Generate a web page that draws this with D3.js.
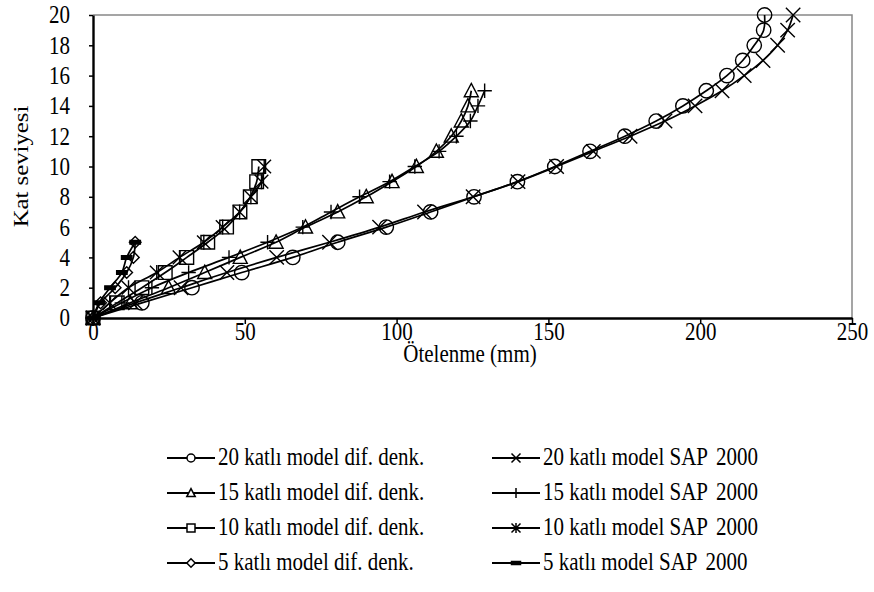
<!DOCTYPE html>
<html>
<head>
<meta charset="utf-8">
<script src="https://cdn.jsdelivr.net/npm/d3@7"></script>
<style>
  html, body { margin: 0; padding: 0; background: #fff; }
  svg { display: block; }
  text { font-family: "Liberation Serif", "Times New Roman", serif; fill: #000; }
</style>
</head>
<body>
<svg id="chart" width="874" height="592"></svg>
<script>
// ---------- data ----------
const xTicks = [0, 50, 100, 150, 200, 250];
const yTicks = [0, 2, 4, 6, 8, 10, 12, 14, 16, 18, 20];

const dif20 = [0, 16.1, 32.6, 49.0, 65.8, 80.6, 96.6, 111.2, 125.5, 139.8, 152.1, 163.7, 175.2, 185.5, 194.3, 202.0, 208.8, 214.0, 217.8, 220.9, 221.2];
const sap20 = [0, 14.0, 29.0, 44.1, 60.5, 77.9, 94.4, 109.2, 125.2, 140.0, 152.7, 164.8, 176.9, 188.4, 198.3, 207.2, 214.5, 220.7, 225.5, 228.8, 230.6];
const dif15 = [0, 12.3, 24.9, 36.8, 48.5, 60.3, 70.0, 80.6, 90.0, 98.5, 106.5, 113.1, 118.0, 121.3, 123.5, 124.6];
const sap15 = [0, 9.5, 19.4, 31.5, 44.8, 57.5, 69.1, 78.4, 87.8, 97.7, 106.0, 114.0, 119.7, 124.3, 126.8, 129.0];
const dif10 = [0, 8.0, 16.1, 23.8, 30.9, 37.8, 44.0, 48.4, 51.8, 53.9, 54.6];
const sap10 = [0, 5.5, 11.7, 21.0, 28.5, 36.5, 42.7, 48.3, 52.0, 55.5, 56.4];
const dif5  = [0, 2.5, 7.3, 11.1, 13.3, 13.9];
const sap5  = [0, 2.0, 5.6, 9.5, 11.1, 13.9];

const seriesModels = ["20 katlı model", "20 katlı model", "15 katlı model", "15 katlı model",
                      "10 katlı model", "10 katlı model", "5 katlı model", "5 katlı model"];
const seriesMethods = ["dif. denk.", "SAP", "dif. denk.", "SAP", "dif. denk.", "SAP", "dif. denk.", "SAP"];
const seriesSuffix = ["", "2000", "", "2000", "", "2000", "", "2000"];
const seriesValues = [dif20, sap20, dif15, sap15, dif10, sap10, dif5, sap5];
const seriesMarkers = ["circle", "x", "triangle", "plus", "square", "asterisk", "diamond", "dash"];

const xTitle = "Ötelenme (mm)";
const yTitle = "Kat seviyesi";

// ---------- layout ----------
const svg = d3.select("#chart");
const L = 93, R = 852, T = 15, B = 318;
const FS = 21, SY = 1.18;
const x = d3.scaleLinear().domain([0, 250]).range([L, R]);
const y = d3.scaleLinear().domain([0, 20]).range([B, T]);

svg.append("path")
  .attr("d", `M${L},${T}H${R}V${B}`)
  .attr("fill", "none").attr("stroke", "#888").attr("stroke-width", 1.5);

function markerPath(type, s) {
  switch (type) {
    case "circle":
      return `M${-s},0A${s},${s} 0 1,0 ${s},0A${s},${s} 0 1,0 ${-s},0Z`;
    case "triangle":
      return `M0,${-s * 1.05}L${s},${s * 0.85}L${-s},${s * 0.85}Z`;
    case "square":
      return `M${-s},${-s}H${s}V${s}H${-s}Z`;
    case "diamond":
      return `M0,${-s}L${s},0L0,${s}L${-s},0Z`;
    case "x":
      return `M${-s},${-s}L${s},${s}M${-s},${s}L${s},${-s}`;
    case "plus":
      return `M${-s},0H${s}M0,${-s}V${s}`;
    case "asterisk":
      return `M${-s},${-s}L${s},${s}M${-s},${s}L${s},${-s}M0,${-s * 1.1}V${s * 1.1}`;
    case "dash":
      return `M${-s},${-s * 0.35}H${s}V${s * 0.35}H${-s}Z`;
  }
}
const plotSize = {circle: 7.2, triangle: 7, square: 6.8, diamond: 5.8, x: 7.2, plus: 7.2, asterisk: 6.8, dash: 5.2};

const line = d3.line()
  .x(d => x(d[0]))
  .y(d => y(d[1]))
  .curve(d3.curveCatmullRom.alpha(0.5));

const g = svg.append("g");
seriesValues.forEach((vals) => {
  g.append("path")
    .attr("d", line(vals.map((v, k) => [v, k])))
    .attr("fill", "none")
    .attr("stroke", "#000")
    .attr("stroke-width", 1.7);
});
seriesValues.forEach((vals, i) => {
  const type = seriesMarkers[i];
  g.selectAll(null)
    .data(vals.map((v, k) => [v, k]))
    .enter().append("path")
    .attr("transform", d => `translate(${x(d[0])},${y(d[1])})`)
    .attr("d", markerPath(type, plotSize[type]))
    .attr("fill", type === "dash" ? "#000" : "none")
    .attr("stroke", "#000")
    .attr("stroke-width", 1.4);
});

function stretchTicks(sel) {
  sel.selectAll(".tick text").each(function () {
    const t = d3.select(this);
    const tx = +t.attr("x") || 0, ty = +t.attr("y") || 0;
    t.attr("x", 0).attr("y", 0)
     .attr("font-size", FS)
     .attr("transform", `translate(${tx},${ty}) scale(1,${SY})`);
  });
}

const xAxis = svg.append("g")
  .attr("transform", `translate(0,${B})`)
  .call(d3.axisBottom(x).tickValues(xTicks).tickSize(6).tickSizeOuter(0).tickPadding(-2).tickFormat(d3.format("d")));
xAxis.select(".domain").attr("stroke", "#000").attr("stroke-width", 2.4);
xAxis.selectAll(".tick line").attr("stroke", "#000").attr("stroke-width", 1.5);
stretchTicks(xAxis);

const yAxis = svg.append("g")
  .attr("transform", `translate(${L},0)`)
  .call(d3.axisLeft(y).tickValues(yTicks).tickSize(4).tickSizeOuter(0).tickPadding(19).tickFormat(d3.format("d")));
yAxis.select(".domain").attr("stroke", "#000").attr("stroke-width", 2.4);
yAxis.selectAll(".tick line").attr("stroke", "#000").attr("stroke-width", 1.5);
stretchTicks(yAxis);

svg.append("text")
  .attr("transform", `translate(470,362) scale(1,${SY})`)
  .attr("text-anchor", "middle")
  .attr("font-size", FS)
  .text(xTitle);
svg.append("text")
  .attr("transform", `translate(28,${(T + B) / 2}) rotate(-90) scale(${SY},1)`)
  .attr("text-anchor", "middle")
  .attr("font-size", FS)
  .text(yTitle);

// legend
const legSize = {circle: 4, triangle: 4.2, square: 4, diamond: 4.2, x: 4.5, plus: 5, asterisk: 4.5, dash: 4.5};
const leg = svg.append("g");
seriesModels.forEach((model, i) => {
  const col = i % 2, row = Math.floor(i / 2);
  const lx = col === 0 ? 167 : 492;
  const ly = 458 + row * 35;
  const gi = leg.append("g").attr("transform", `translate(${lx},${ly})`);
  gi.append("line").attr("x1", 0).attr("x2", 48).attr("y1", 0).attr("y2", 0)
    .attr("stroke", "#000").attr("stroke-width", 2);
  const type = seriesMarkers[i];
  gi.append("path")
    .attr("transform", "translate(24,0)")
    .attr("d", markerPath(type, legSize[type]))
    .attr("fill", type === "dash" ? "#000" : "#fff")
    .attr("stroke", "#000").attr("stroke-width", 1.5);
  const t = gi.append("text")
    .attr("transform", `translate(51,6.5) scale(1,${SY})`)
    .attr("font-size", FS);
  if (seriesSuffix[i]) {
    t.append("tspan").text(model + " " + seriesMethods[i]);
    t.append("tspan").attr("dx", 8).text(seriesSuffix[i]);
  } else {
    t.text(model + " " + seriesMethods[i]);
  }
});
</script>
</body>
</html>
